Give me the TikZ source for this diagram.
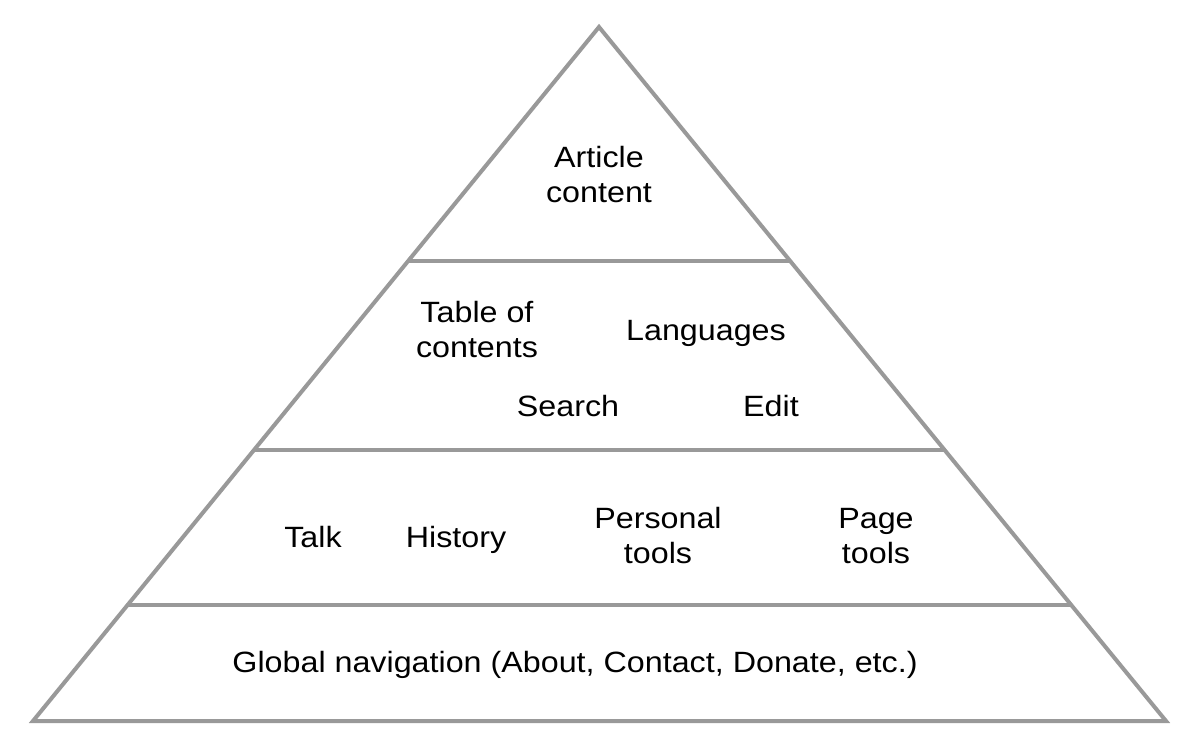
\documentclass[tikz,border=0pt]{standalone}
\usepackage{fontspec}
\setmainfont[FakeStretch=1.1]{Liberation Sans}
\usetikzlibrary{calc}

\definecolor{pyrgray}{RGB}{153,153,153}

\tikzset{every picture/.style={line width=0.75pt}}

\begin{document}
\begin{tikzpicture}[x=0.75pt,y=0.75pt,yscale=-1,xscale=1,
  pyrline/.style={draw=pyrgray, line width=3pt, line join=miter},
  lyrtext/.style={inner sep=0.75pt, align=center, font=\fontsize{22}{26.25}\selectfont},
  lyrword/.style={lyrtext, anchor=base}]
\useasboundingbox (0,0) rectangle (1197,748);

%Shape: Triangle
\coordinate (apex) at (599,27);
\coordinate (bl) at (33,721);
\coordinate (br) at (1166,721);
\draw [pyrline] (apex) -- (br) -- (bl) -- cycle ;

%Straight Lines (layer borders)
\foreach \t/\n in {0.337/one, 0.6095/two, 0.833/three} {
  \coordinate (l\n) at ($(apex)!\t!(bl)$);
  \coordinate (r\n) at ($(apex)!\t!(br)$);
  \draw [pyrline] (l\n) -- (r\n) ;
}

% Text Node
\node [lyrtext] (article) at (599,175) {Article\\content};
% Text Node
\node [lyrtext] (toc) at (477,330) {Table of\\contents};
% Text Node
\node [lyrword] (lang) at (706,340.5) {Languages};
% Text Node
\node [lyrword] (search) at (568,416.5) {Search};
% Text Node
\node [lyrword] (edit) at (771,416.5) {Edit};
% Text Node
\node [lyrword] (talk) at (313,547.5) {Talk};
% Text Node
\node [lyrword] (history) at (456,547.5) {History};
% Text Node
\node [lyrtext] (personal) at (658,536) {Personal\\tools};
% Text Node
\node [lyrtext] (pagetools) at (876,536) {Page\\tools};
% Text Node
\node [lyrword] (global) at (575,672.5) {Global navigation (About, Contact, Donate, etc.)};

\end{tikzpicture}
\end{document}
